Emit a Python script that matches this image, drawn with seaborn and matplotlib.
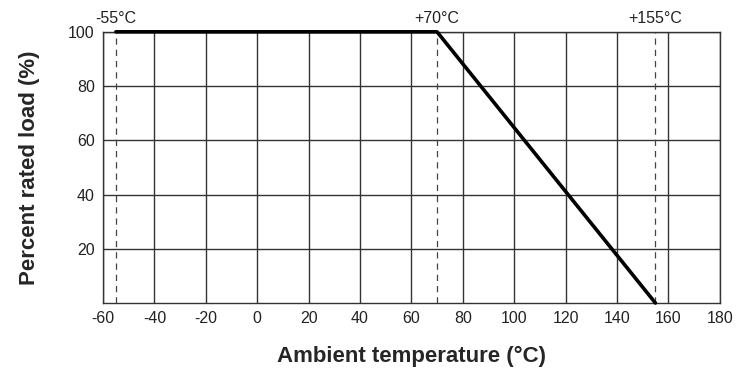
import pandas as pd
import matplotlib.pyplot as plt
import seaborn as sns

# Derating curve data
temperature = [-55, 70, 155]
load_pct = [100, 100, 0]
marker_temps = [-55, 70, 155]
marker_labels = ['-55°C', '+70°C', '+155°C']
x_ticks = [-60, -40, -20, 0, 20, 40, 60, 80, 100, 120, 140, 160, 180]
y_ticks = [20, 40, 60, 80, 100]

df = pd.DataFrame({'temp': temperature, 'load': load_pct})

sns.set_theme(style='white')
plt.rcParams['font.family'] = ['Liberation Sans', 'DejaVu Sans']
plt.rcParams['axes.unicode_minus'] = False

fig = plt.figure(figsize=(7.52, 3.7), dpi=100)
ax = fig.add_axes([0.137, 0.181, 0.82, 0.733])

ax.set_xlim(-60, 180)
ax.set_ylim(0, 100)
ax.set_xticks(x_ticks)
ax.set_yticks(y_ticks)
ax.grid(True, color='#333333', linewidth=1.0)
ax.set_axisbelow(True)

for t in marker_temps:
    ax.axvline(t, color='#444444', linestyle=(0, (5, 4)), linewidth=0.9, zorder=2)

sns.lineplot(data=df, x='temp', y='load', color='black', linewidth=2.6, ax=ax, zorder=5)
ax.lines[-1].set_clip_on(False)

for t, lab in zip(marker_temps, marker_labels):
    ax.text(t, 102, lab, ha='center', va='bottom', fontsize=11.5, color='#222222')

for s in ax.spines.values():
    s.set_color('#333333')
    s.set_linewidth(1.0)

ax.tick_params(axis='both', length=0, labelsize=11.5, labelcolor='#222222', pad=6)
ax.set_xlabel('Ambient temperature (°C)', fontsize=16, fontweight='bold', labelpad=14)
ax.set_ylabel('Percent rated load (%)', fontsize=16, fontweight='bold', labelpad=20)

fig.savefig('out.png', dpi=100)
